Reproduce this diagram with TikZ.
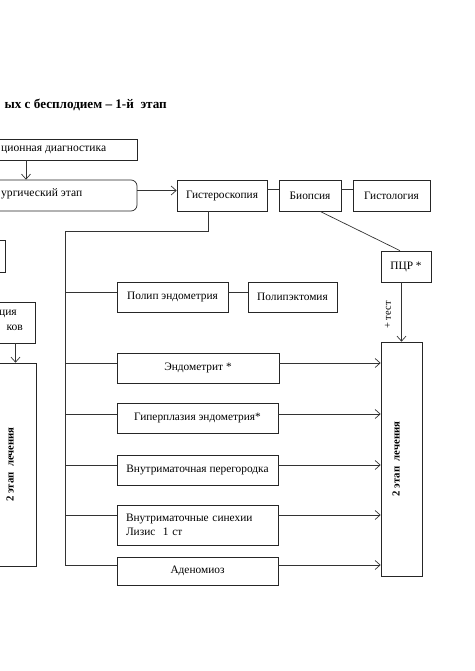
\documentclass[tikz,border=0pt]{standalone}
\usepackage{fontspec}
\setmainfont{Liberation Serif}
\usetikzlibrary{calc,arrows.meta}
\tikzset{
	box/.style={draw, line width=0.7pt, color=black!85, text=black, inner sep=0pt, font=\fontsize{11.4}{13.5}\selectfont},
	ln/.style={line width=0.7pt, color=black!80},
	arr/.style={ln, -{Straight Barb[length=5bp, width=9bp]}},
	txt/.style={inner sep=0pt, font=\fontsize{11.6}{13.5}\selectfont},
	stagetxt/.style={rotate=90, inner sep=0pt, font=\bfseries\fontsize{10.8}{13}\selectfont},
}

\begin{document}
\begin{tikzpicture}[x=1bp, y=-1bp]
		%%%%% START %%%%%
		
		\useasboundingbox (0,0) rectangle (475,671);
		\clip (0,0) rectangle (475,671);
		
		\node[anchor=east, inner sep=0pt, font=\bfseries\fontsize{13.2}{15}\selectfont] (title) at (167,105) {ых с бесплодием – 1-й~~этап};
		
		\node[box, minimum width=180bp, minimum height=21bp] (diag) at (47,149.5) {};
		\node[txt, anchor=west] (diagtxt) at (1,149.5) {ционная диагностика};
		\node[box, rounded corners=6bp, minimum width=180bp, minimum height=31bp] (surg) at (47,195.5) {};
		\node[txt, anchor=west] (surgtxt) at (1,194) {ургический этап};
		\draw[arr] ([xshift=-21bp]diag.south) -- ([xshift=-21bp]surg.north);
		
		\node[box, minimum width=90bp, minimum height=31bp] (hyst) at (222,195.5) {Гистероскопия};
		\node[box, minimum width=62bp, minimum height=31bp] (biop) at (310,195.5) {Биопсия};
		\node[box, minimum width=77bp, minimum height=31bp] (histo) at (391.5,195.5) {Гистология};
		\node[box, minimum width=50bp, minimum height=31bp] (pcr) at (406,266.5) {ПЦР *};
		
		\draw[arr] ([yshift=5bp]surg.east) -- ([yshift=5bp]hyst.west);
		\draw[ln] ([yshift=6bp]hyst.east) -- ([yshift=6bp]biop.west);
		\draw[ln] ([yshift=6bp]biop.east) -- ([yshift=6bp]histo.west);
		\draw[ln] ([xshift=10bp]biop.south) -- ([xshift=-6bp]pcr.north);
		
		% left column
		\node[box, minimum width=60bp, minimum height=32bp] (prep) at (-25,256) {};
		\node[box, minimum width=120bp, minimum height=41bp] (treat) at (-25,322.5) {};
		\node[txt, anchor=east] (treat1) at (17,314) {ция};
		\node[txt, anchor=east] (treat2) at (23,328) {ков};
		\node[box, minimum width=41bp, minimum height=203bp] (stagel) at (15.5,464.5) {};
		\node[stagetxt] (stageltxt) at ([xshift=-5.5bp]stagel.center) {2 этап~~лечения};
		\draw[arr] (treat.south -| stagel.north) -- (stagel.north);
		
		% findings
		\node[box, minimum width=111bp, minimum height=30bp] (polip) at (172.5,297) {Полип эндометрия};
		\node[box, minimum width=89bp, minimum height=30bp] (polect) at (292.5,297) {Полипэктомия};
		\node[box, minimum width=162bp, minimum height=30bp] (endo) at (198,368) {Эндометрит *};
		\node[box, minimum width=161bp, minimum height=30bp] (hyper) at (197.5,418) {Гиперплазия эндометрия*};
		\node[box, minimum width=161bp, minimum height=30bp] (sept) at (197.5,470) {Внутриматочная перегородка};
		\node[box, minimum width=161bp, minimum height=40bp, text width=143bp, align=left] (syn) at (197.5,525) {Внутриматочные синехии\\Лизис~~1 ст};
		\node[box, minimum width=161bp, minimum height=28bp] (aden) at (197.5,571) {Аденомиоз};
		\draw[ln] ([yshift=5bp]polip.east) -- ([yshift=5bp]polect.west);
		
		\coordinate (trunk) at (65,231);
		\draw[ln] ([xshift=-14bp]hyst.south) |- (trunk) |- ([yshift=6bp]aden.west);
		\foreach \n/\s in {polip/5, endo/5, hyper/4, sept/5, syn/10}
			\draw[ln] ([yshift=\s bp]\n.west) -- ++(-52,0);
		
		% right column
		\node[box, minimum width=41bp, minimum height=234bp] (stager) at (401.5,459) {};
		\node[stagetxt] (stagertxt) at ([xshift=-5.5bp]stager.center) {2 этап~~лечения};
		\draw[arr] (pcr.south -| stager.north) -- (stager.north);
		\node[rotate=90, inner sep=0pt, font=\fontsize{10.5}{12}\selectfont] (test) at (388,315) {+ тест};
		
		\foreach \n/\s in {endo/5, hyper/4, sept/5, syn/10, aden/6}
			\draw[arr] ([yshift=\s bp]\n.east) -- ([yshift=\s bp]\n.east -| stager.west);
		
		%%%%% END %%%%%
	\end{tikzpicture}
\end{document}
